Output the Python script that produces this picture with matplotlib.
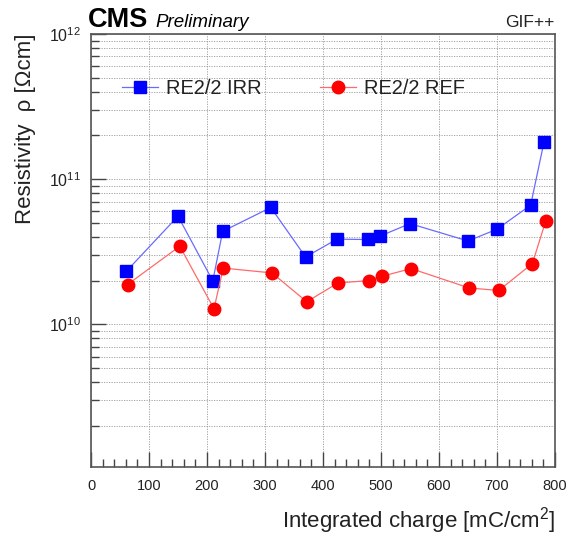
import matplotlib
matplotlib.use("Agg")
import matplotlib.pyplot as plt
from matplotlib.ticker import LogLocator, MultipleLocator, NullFormatter, FixedLocator

plt.rcParams['font.family'] = ['Liberation Sans', 'DejaVu Sans']
plt.rcParams['mathtext.fontset'] = 'custom'
plt.rcParams['mathtext.rm'] = 'Liberation Sans'
plt.rcParams['mathtext.it'] = 'Liberation Sans:italic'

# Data
irr_x = [61, 150, 210, 227, 310, 370, 424, 478, 498, 550, 650, 700, 758, 781]
irr_y = [2.32e10, 5.56e10, 1.99e10, 4.37e10, 6.38e10, 2.91e10, 3.86e10, 3.84e10,
         4.05e10, 4.94e10, 3.75e10, 4.52e10, 6.62e10, 1.80e11]
ref_x = [63, 153, 212, 228, 312, 372, 426, 480, 501, 552, 652, 703, 761, 784]
ref_y = [1.88e10, 3.45e10, 1.28e10, 2.44e10, 2.26e10, 1.43e10, 1.93e10, 2.00e10,
         2.14e10, 2.42e10, 1.78e10, 1.71e10, 2.62e10, 5.15e10]
x_ticks = [0, 100, 200, 300, 400, 500, 600, 700, 800]
y_ticks = [1e10, 1e11, 1e12]
y_tick_labels = [r'$10^{10}$', r'$10^{11}$', r'$10^{12}$']

fig = plt.figure(figsize=(5.76, 5.37), dpi=100)
ax = fig.add_axes([91/576, 1-467/537, (555-91)/576, (467-34)/537])

ax.plot(irr_x, irr_y, color='#6a6aff', lw=0.9, marker='s', ms=8.5,
        mfc='#0000ff', mec='#0000ff', label='RE2/2 IRR', zorder=3)
ax.plot(ref_x, ref_y, color='#ff6a6a', lw=0.9, marker='o', ms=9,
        mfc='#ff0000', mec='#ff0000', label='RE2/2 REF', zorder=3)

ax.set_yscale('log')
ax.set_xlim(0, 800)
ax.set_ylim(1.04e9, 1e12)

ax.xaxis.set_major_locator(FixedLocator(x_ticks))
ax.set_xticklabels([str(v) for v in x_ticks])
ax.xaxis.set_minor_locator(MultipleLocator(20))
ax.yaxis.set_major_locator(FixedLocator(y_ticks))
ax.set_yticklabels(y_tick_labels)
ax.yaxis.set_minor_locator(LogLocator(base=10, subs=range(2, 10), numticks=20))
ax.yaxis.set_minor_formatter(NullFormatter())

ax.tick_params(axis='both', which='both', direction='in', top=False, right=False,
               color='#444444', width=1.0, labelcolor='#222222')
ax.tick_params(axis='x', which='major', length=11, labelsize=10.5, pad=9)
ax.tick_params(axis='x', which='minor', length=5.5)
ax.tick_params(axis='y', which='major', length=11, labelsize=11.5, pad=7)
ax.tick_params(axis='y', which='minor', length=6)

grid_kw = dict(color='#999999', linestyle=(0, (1.5, 1.5)), linewidth=0.6)
ax.grid(True, which='major', axis='both', **grid_kw)
ax.grid(True, which='minor', axis='y', **grid_kw)
ax.set_axisbelow(True)

for s in ax.spines.values():
    s.set_color('#555555')
    s.set_linewidth(1.2)

ax.set_xlabel('Integrated charge [mC/cm$^2$]', fontsize=16, loc='right', color='#222222')
ax.xaxis.set_label_coords(1.0, -(505-467)/433)
ax.set_ylabel('Resistivity  ρ [Ωcm]', fontsize=16, loc='top', color='#222222')
ax.yaxis.set_label_coords(-(91-36)/464, 1.0)

fig.text(88/576, 1-27/537, 'CMS', fontsize=19.5, fontweight='bold', ha='left', va='baseline')
fig.text(155/576, 1-27/537, 'Preliminary', fontsize=13.5, style='italic', ha='left', va='baseline')
fig.text(554/576, 1-27/537, 'GIF++', fontsize=12.5, ha='right', va='baseline', color='#222222')

ax.legend(loc='center left', bbox_to_anchor=(122/576, 1-88/537), bbox_transform=fig.transFigure,
          ncol=2, frameon=False, fontsize=14.4, handlelength=1.8, handletextpad=0.4,
          columnspacing=2.9, borderpad=0, borderaxespad=0, numpoints=1,
          labelcolor='#222222')

fig.savefig('out.png', dpi=100)
